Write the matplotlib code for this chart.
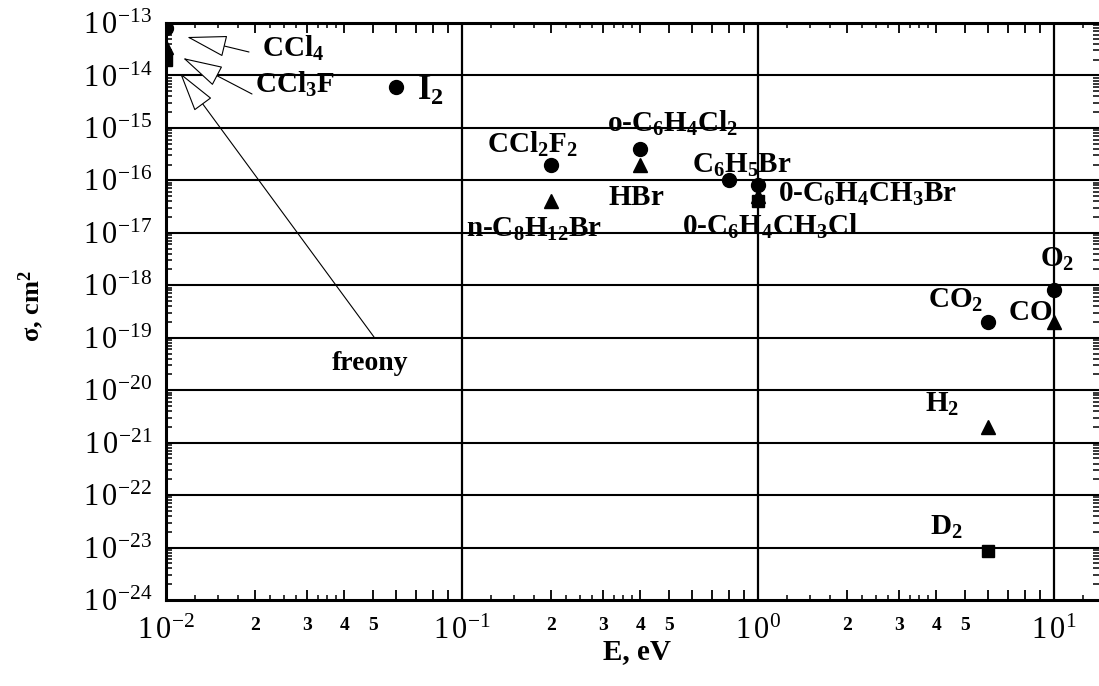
import matplotlib
matplotlib.use('Agg')
import matplotlib.pyplot as plt
import numpy as np
from matplotlib.ticker import FixedLocator, NullFormatter

plt.rcParams['font.family'] = ['Liberation Serif', 'DejaVu Serif']
plt.rcParams['mathtext.fontset'] = 'custom'
plt.rcParams['mathtext.rm'] = 'Liberation Serif'
plt.rcParams['mathtext.it'] = 'Liberation Serif:italic'
plt.rcParams['mathtext.bf'] = 'Liberation Serif:bold'
plt.rcParams['mathtext.default'] = 'regular'

# ---- data (E in eV, sigma in cm^2) ----
circle_E = [0.01, 0.06, 0.2, 0.4, 0.8, 1.0, 6.0, 10.0]
circle_sigma = [8e-14, 6e-15, 2e-16, 4e-16, 1e-16, 8e-17, 2e-19, 8e-19]
tri_E = [0.01, 0.2, 0.4, 1.0, 6.0, 10.0]
tri_sigma = [3.5e-14, 4e-17, 2e-16, 5e-17, 2e-21, 2e-19]
sq_E = [0.01, 1.0, 6.0]
sq_sigma = [2e-14, 4e-17, 8.5e-24]

labels = [r'$\mathbf{CCl_4}$', r'$\mathbf{CCl_3F}$', r'$\mathbf{I_2}$',
          r'$\mathbf{CCl_2F_2}$', r'$\mathbf{o}$-$\mathbf{C_6H_4Cl_2}$',
          r'$\mathbf{C_6H_5Br}$', r'$\mathbf{HBr}$',
          r'$\mathbf{0}$-$\mathbf{C_6H_4CH_3Br}$', r'$\mathbf{n}$-$\mathbf{C_8H_{12}Br}$',
          r'$\mathbf{0}$-$\mathbf{C_6H_4CH_3Cl}$', r'$\mathbf{O_2}$', r'$\mathbf{CO_2}$',
          r'$\mathbf{CO}$', r'$\mathbf{H_2}$', r'$\mathbf{D_2}$',
          'freony']
# label anchor (left, baseline) in figure pixels of the reference
label_px = [(262, 57), (255, 93), (417, 100), (487, 153), (607, 132),
            (692, 173), (608, 205), (778, 202), (466, 237),
            (682, 235), (1040, 267), (928, 308), (1008, 320), (925, 412), (930, 535),
            (332, 370)]
label_size = [21, 21, 25, 21, 21, 21, 21, 21, 21, 21, 21, 21, 21, 21, 21, 20]

# arrows: (tip, tail) in reference pixels
arrows_px = [((187, 37), (249, 52)), ((183, 58), (252, 94)), ((180, 73), (374, 337))]

x_decades = [1e-2, 1e-1, 1e0, 1e1]
y_decades = [10.0 ** k for k in range(-24, -12)]

W, H = 1099, 686
AX_L, AX_R, AX_T, AX_B = 166, 1099, 23, 600

fig = plt.figure(figsize=(W / 100, H / 100), dpi=100)
ax = fig.add_axes([AX_L / W, 1 - AX_B / H, (AX_R - AX_L) / W, (AX_B - AX_T) / H])

def to_axes(p):
    return ((p[0] - AX_L) / (AX_R - AX_L), (AX_B - p[1]) / (AX_B - AX_T))

ax.set_xscale('log')
ax.set_yscale('log')
xmax = 10 ** (-2 + (AX_R - AX_L) / 296.0)
ax.set_xlim(1e-2, xmax)
ax.set_ylim(1e-24, 1e-13)

# grid lines at decades
for yv in y_decades[1:-1]:
    ax.axhline(yv, color='black', lw=1.5, zorder=1)
for xv in x_decades[1:]:
    ax.axvline(xv, color='black', lw=1.6, zorder=1)

ax.plot(circle_E, circle_sigma, 'o', color='black', ms=10, zorder=3)
ax.plot(tri_E, tri_sigma, '^', color='black', ms=10, zorder=3)
ax.plot(sq_E, sq_sigma, 's', color='black', ms=9, zorder=3)

for lab, p, s in zip(labels, label_px, label_size):
    ax.text(*to_axes(p), lab, transform=ax.transAxes, fontsize=s,
            fontweight='bold', ha='left', va='baseline', zorder=4)

for tip, tail in arrows_px:
    ax.annotate('', xy=to_axes(tip), xycoords='axes fraction',
                xytext=to_axes(tail), textcoords='axes fraction',
                arrowprops=dict(arrowstyle='-|>,head_length=2.6,head_width=0.7',
                                mutation_scale=10, fc='white', ec='black', lw=0.8,
                                shrinkA=0, shrinkB=0))

# x ticks: integer multiples as major (long), quarters as minor (short)
xmaj, xlab, xsize = [], [], []
for d in x_decades:
    for m in range(1, 10):
        v = m * d
        if v > xmax:
            continue
        xmaj.append(v)
        if m == 1:
            e = int(round(np.log10(d)))
            xlab.append(r'$1\,0^{%d}$' % e)
            xsize.append(22)
        elif m <= 5:
            xlab.append(str(m))
            xsize.append(14)
        else:
            xlab.append('')
            xsize.append(14)
xmin_t = []
for d in x_decades:
    for m in [1.25, 1.5, 1.75, 2.25, 2.5, 2.75, 3.25, 3.5, 3.75]:
        if m * d < xmax:
            xmin_t.append(m * d)
ax.xaxis.set_major_locator(FixedLocator(xmaj))
ax.set_xticklabels(xlab)
for t, s in zip(ax.get_xticklabels(), xsize):
    t.set_fontsize(s)
    if s == 14:
        t.set_fontweight('bold')
ax.xaxis.set_minor_locator(FixedLocator(xmin_t))
ax.xaxis.set_minor_formatter(NullFormatter())
ax.tick_params(axis='x', which='major', direction='in', length=7, width=1.3,
               top=True, bottom=True, pad=12)
ax.tick_params(axis='x', which='minor', direction='in', length=3.5, width=1.1,
               top=True, bottom=True)

# y ticks
ax.yaxis.set_major_locator(FixedLocator(y_decades))
ax.set_yticklabels([r'$1\,0^{%d}$' % int(round(np.log10(v))) for v in y_decades],
                   fontsize=22)
ymin_t = [m * v for v in y_decades[:-1] for m in range(2, 10)]
ax.yaxis.set_minor_locator(FixedLocator(ymin_t))
ax.yaxis.set_minor_formatter(NullFormatter())
ax.tick_params(axis='y', which='major', direction='in', length=0, left=True,
               right=True, pad=10)
ax.tick_params(axis='y', which='minor', direction='in', length=4.5, width=1.1,
               left=True, right=True)

for sp in ['left', 'top', 'bottom']:
    ax.spines[sp].set_linewidth(2.2)
ax.spines['right'].set_visible(False)

fig.text(637 / W, 1 - 652 / H, 'E, eV', fontsize=21, fontweight='bold',
         ha='center', va='center')
fig.text(31 / W, 1 - 306 / H, r'$\mathbf{\sigma}$, cm$^\mathbf{2}$', fontsize=19,
         fontweight='bold', ha='center', va='center', rotation=90)

fig.savefig('out.png', dpi=100)
